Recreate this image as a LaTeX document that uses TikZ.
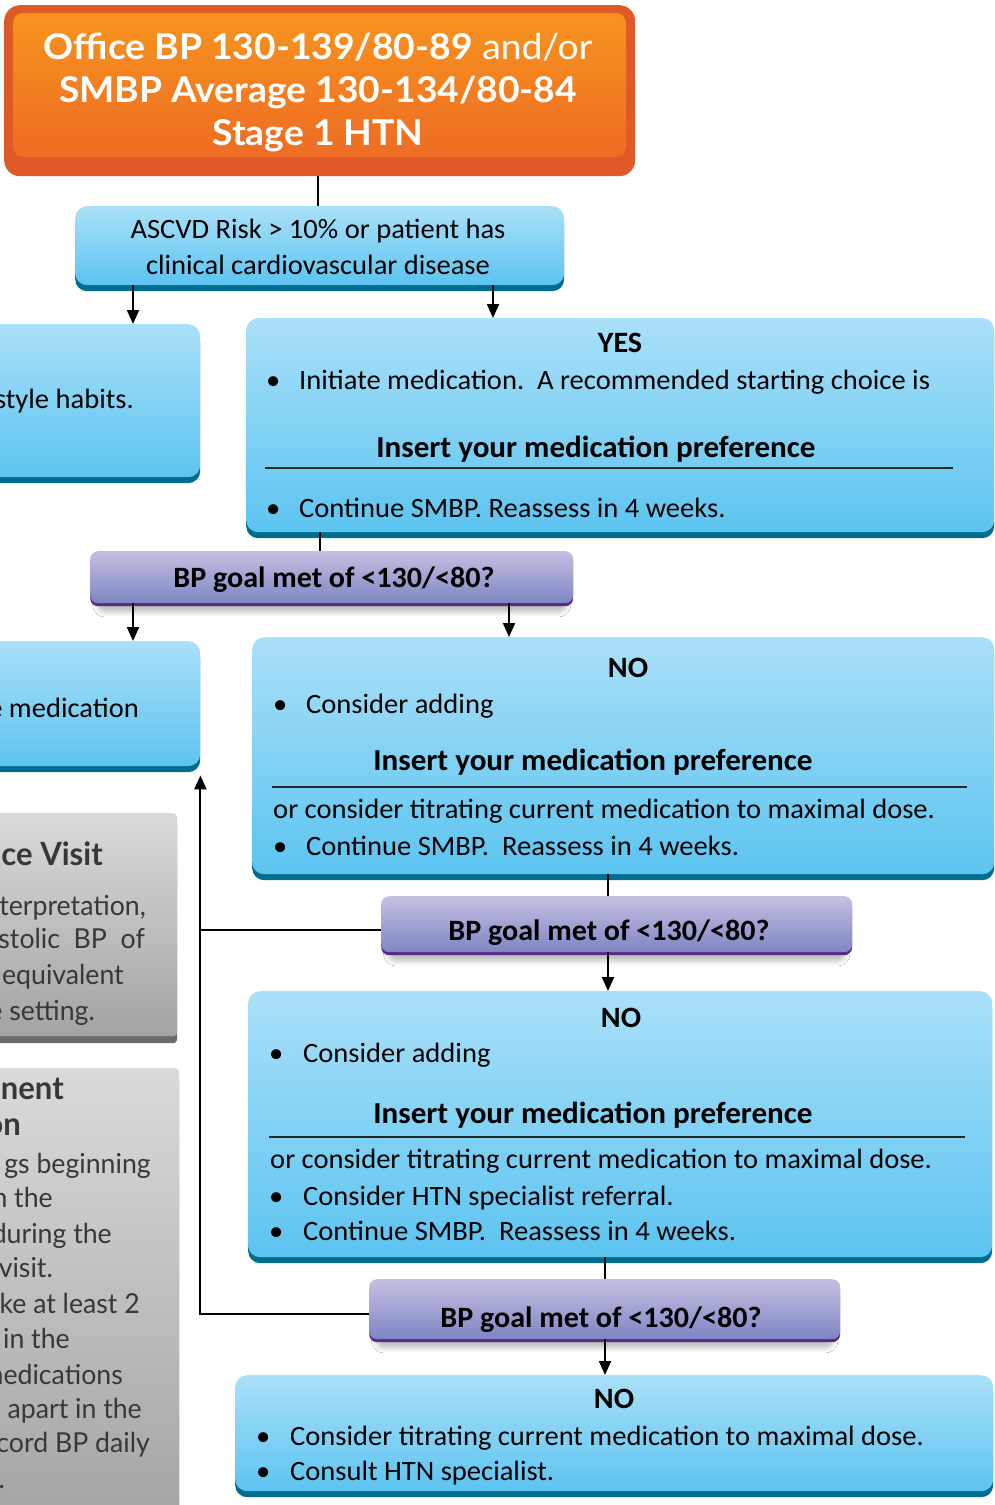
\documentclass[tikz,border=0pt]{standalone}
\usepackage{fontspec}
\setmainfont[FakeStretch=1.02]{Carlito}
\newfontfamily\widefont[FakeStretch=0.97]{Lato}
\newfontfamily\titlefont[FakeStretch=1.05]{Lato}
\usetikzlibrary{arrows.meta,calc,shadows.blur}
\definecolor{orOut}{HTML}{DF5A26}
\definecolor{orTop}{HTML}{F7941E}
\definecolor{orBot}{HTML}{EE6C24}
\definecolor{blTop}{HTML}{AAE0F8}
\definecolor{blBot}{HTML}{5CC4F0}
\definecolor{blEdge}{HTML}{006C8E}
\definecolor{puTop}{HTML}{C5C0E2}
\definecolor{puBot}{HTML}{7D85C3}
\definecolor{puEdge}{HTML}{5B2A84}
\definecolor{grTop}{HTML}{DADADA}
\definecolor{grBot}{HTML}{A3A3A3}
\definecolor{grEdge}{HTML}{6B6B6B}
\tikzset{
  softshadow/.style={blur shadow={shadow xshift=0pt, shadow yshift=-10pt, shadow scale=0.97, shadow opacity=25, shadow blur radius=5pt}},
  bluebox/.style={rounded corners=12pt, top color=blTop, bottom color=blBot, inner sep=0pt, anchor=north west,
     preaction={fill=blEdge, transform canvas={yshift=-6pt}}},
  purplebox/.style={rounded corners=8pt, top color=puTop, bottom color=puBot, inner sep=0pt, anchor=north west, softshadow,
     preaction={fill=puEdge, transform canvas={yshift=-3pt}}},
  graybox/.style={rounded corners=4pt, top color=grTop, bottom color=grBot, inner sep=0pt, anchor=north west,
     preaction={fill=grEdge, transform canvas={yshift=-7pt}}},
  body/.style={inner sep=0pt, font=\fontsize{28}{33}\selectfont},
  bodyb/.style={inner sep=0pt, font=\fontsize{30.5}{33}\selectfont\bfseries},
  head/.style={inner sep=0pt, font=\fontsize{29.5}{33}\selectfont\bfseries},
  ptext/.style={inner sep=0pt, font=\fontsize{29.5}{33}\selectfont\bfseries},
  gtext/.style={inner sep=0pt, anchor=base east, text=black!78, font=\widefont\fontsize{27.5}{33}\selectfont},
  gbold/.style={inner sep=0pt, anchor=base east, text=black!78, font=\widefont\fontsize{32}{33}\selectfont\bfseries},
  conn/.style={line width=2pt, black},
  arr/.style={line width=2pt, black, -{Triangle[length=14pt,width=12pt]}},
  rule/.style={line width=1.2pt, black!85},
}
\begin{document}
\begin{tikzpicture}[x=1pt,y=-1pt]
\useasboundingbox (0,0) rectangle (995,1505);
\clip (0,0) rectangle (995,1505);
\fill[white] (0,0) rectangle (995,1505);

% title box
\node[rounded corners=16pt, fill=orOut, inner sep=0pt, anchor=north west, minimum width=631pt, minimum height=171pt] (title) at (4,5) {};
\path[rounded corners=10pt, top color=orTop, bottom color=orBot] (13,13) rectangle (626,157);
\node[inner sep=0pt, text=white, align=center, font=\titlefont\fontsize{35.5}{43}\selectfont, anchor=base] (titletxt) at (318,145)
  {\textbf{Office BP 130-139/80-89} and/or\\ \textbf{SMBP Average 130-134/80-84}\\ \textbf{Stage 1 HTN}};

% ASCVD
\node[bluebox, minimum width=489pt, minimum height=79pt] (asc) at (75,206) {};
\node[body, anchor=base, align=center, font=\fontsize{28}{36}\selectfont] (asctxt) at (318,274)
  {ASCVD Risk > 10\% or patient has\\ clinical cardiovascular disease};

% left boxes
\node[bluebox, minimum width=240pt, minimum height=153pt] (left1) at (-40,324) {};
\node[body, anchor=base east] (left1txt) at (134,408) {style habits.};
\node[bluebox, minimum width=240pt, minimum height=125pt] (left2) at (-40,641) {};
\node[body, anchor=base east] (left2txt) at (139,717) {e medication};

% YES box
\node[bluebox, minimum width=748pt, minimum height=214pt] (yes) at (246,318) {};
\node[head, anchor=base] (yeshead) at (620,352) {YES};
\node[body, anchor=base west] (yesb1) at (266,389) {•};
\node[body, anchor=base west] (yest1) at (299,389) {Initiate medication.\ \ A recommended starting choice is};
\node[bodyb, anchor=base] (yespref) at (596,457) {Insert your medication preference};
\draw[rule] (265,468) -- (953,468);
\node[body, anchor=base west] (yesb2) at (266,517) {•};
\node[body, anchor=base west] (yest2) at (299,517) {Continue SMBP. Reassess in 4 weeks.};

% purple 1
\node[purplebox, minimum width=483pt, minimum height=52pt] (p1) at (90,551) {};
\node[ptext, anchor=base] (p1txt) at (334,587) {BP goal met of <130/<80?};

% NO box 1
\node[bluebox, minimum width=742pt, minimum height=237pt] (no1) at (252,637) {};
\node[head, anchor=base] (no1head) at (628,677) {NO};
\node[body, anchor=base west] (no1b1) at (273,713) {•};
\node[body, anchor=base west] (no1t1) at (306,713) {Consider adding};
\node[bodyb, anchor=base] (no1pref) at (593,770) {Insert your medication preference};
\draw[rule] (272,787) -- (967,787);
\node[body, anchor=base west] (no1t2) at (273,818) {or consider titrating current medication to maximal dose.};
\node[body, anchor=base west] (no1b3) at (273,855) {•};
\node[body, anchor=base west] (no1t3) at (306,855) {Continue SMBP.\ \ Reassess in 4 weeks.};

% purple 2
\node[purplebox, minimum width=471pt, minimum height=56pt] (p2) at (381,896) {};
\node[ptext, anchor=base] (p2txt) at (609,940) {BP goal met of <130/<80?};

% NO box 2
\node[bluebox, minimum width=744pt, minimum height=266pt] (no2) at (248,991) {};
\node[head, anchor=base] (no2head) at (621,1027) {NO};
\node[body, anchor=base west] (no2b1) at (269,1062) {•};
\node[body, anchor=base west] (no2t1) at (303,1062) {Consider adding};
\node[bodyb, anchor=base] (no2pref) at (593,1123) {Insert your medication preference};
\draw[rule] (269,1137) -- (965,1137);
\node[body, anchor=base west] (no2t2) at (270,1168) {or consider titrating current medication to maximal dose.};
\node[body, anchor=base west] (no2b3) at (269,1205) {•};
\node[body, anchor=base west] (no2t3) at (303,1205) {Consider HTN specialist referral.};
\node[body, anchor=base west] (no2b4) at (269,1240) {•};
\node[body, anchor=base west] (no2t4) at (303,1240) {Continue SMBP.\ \ Reassess in 4 weeks.};

% purple 3
\node[purplebox, minimum width=471pt, minimum height=60pt] (p3) at (369,1279) {};
\node[ptext, anchor=base] (p3txt) at (601,1327) {BP goal met of <130/<80?};

% NO box 3
\node[bluebox, minimum width=758pt, minimum height=116pt] (no3) at (235,1375) {};
\node[head, anchor=base] (no3head) at (614,1408) {NO};
\node[body, anchor=base west] (no3b1) at (256,1445) {•};
\node[body, anchor=base west] (no3t1) at (290,1445) {Consider titrating current medication to maximal dose.};
\node[body, anchor=base west] (no3b2) at (256,1480) {•};
\node[body, anchor=base west] (no3t2) at (290,1480) {Consult HTN specialist.};

% gray boxes
\node[graybox, minimum width=217pt, minimum height=223pt] (g1) at (-40,813) {};
\node[gbold] (g1a) at (103,865) {ce Visit};
\node[gtext] (g1b) at (146,915) {terpretation,};
\node[gtext] (g1c) at (145,948) {astolic\ \ BP\ \ of};
\node[gtext] (g1d) at (124,984) {equivalent};
\node[gtext] (g1e) at (95,1020) {e setting.};

\node[graybox, minimum width=219pt, minimum height=460pt] (g2) at (-40,1068) {};
\node[gbold] (g2a) at (64,1099) {nent};
\node[gbold] (g2b) at (21,1135) {on};
\node[gtext] (g2c) at (151,1173) {gs beginning};
\node[gtext] (g2d) at (53,1207) {n the};
\node[gtext] (g2e) at (112,1243) {during the};
\node[gtext] (g2f) at (53,1277) {visit.};
\node[gtext] (g2g) at (140,1313) {ke at least 2};
\node[gtext] (g2h) at (70,1348) {in the};
\node[gtext] (g2i) at (123,1384) {nedications};
\node[gtext] (g2j) at (142,1418) {apart in the};
\node[gtext] (g2k) at (150,1452) {cord BP daily};
\node[gtext] (g2l) at (5,1488) {.};

% connectors
\draw[conn] (title.south -| 318,0) -- (asc.north -| 318,0);
\draw[arr] ([xshift=58pt]asc.south west) -- ([xshift=58pt]asc.south west |- left1.north);
\draw[arr] ([xshift=418pt]asc.south west) -- ([xshift=418pt]asc.south west |- yes.north);
\draw[conn] ([xshift=74pt]yes.south west) -- ([xshift=74pt]yes.south west |- p1.north);
\draw[arr] ([xshift=43pt]p1.south west) -- ([xshift=43pt]p1.south west |- left2.north);
\draw[arr] ([xshift=419pt]p1.south west) -- ([xshift=419pt]p1.south west |- no1.north);
\draw[conn] ([xshift=356pt]no1.south west) -- ([xshift=356pt]no1.south west |- p2.north);
\draw[arr] ([xshift=227pt]p2.south west) -- ([xshift=227pt]p2.south west |- no2.north);
\draw[conn] ([xshift=357pt]no2.south west) -- ([xshift=357pt]no2.south west |- p3.north);
\draw[arr] ([xshift=236pt]p3.south west) -- ([xshift=236pt]p3.south west |- no3.north);
\draw[conn] ([yshift=-6pt]p2.west) -- ([yshift=-6pt]p2.west -| left2.east);
\draw[arr] ([yshift=-5pt]p3.west) -| ([yshift=-9pt]left2.south east);
\end{tikzpicture}
\end{document}
